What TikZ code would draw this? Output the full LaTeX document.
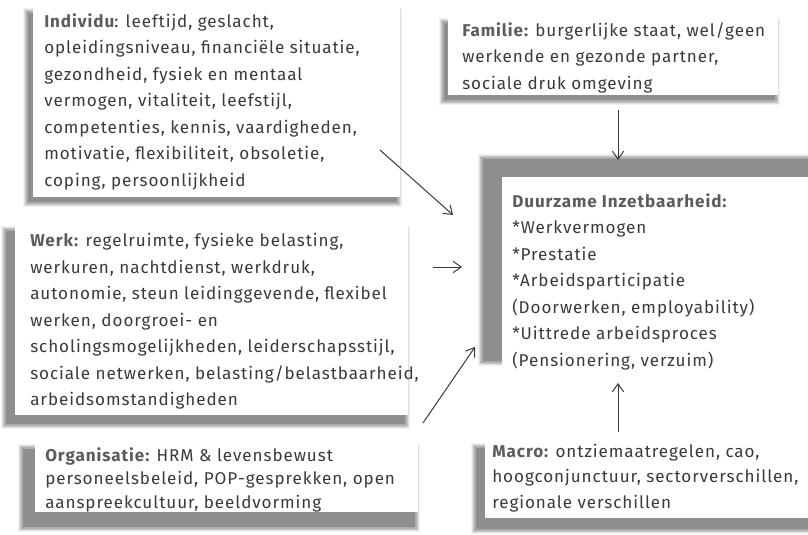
\documentclass[tikz,border=0pt]{standalone}
\usepackage{fontspec}
\setmainfont{Fira Sans}[LetterSpace=5.5]
\usetikzlibrary{arrows.meta}
\definecolor{txt}{HTML}{3A3A3A}
\definecolor{lbl}{HTML}{5C5C5C}
\definecolor{shd}{HTML}{8E8E8E}
\newcommand{\lb}[1]{{\bfseries\color{lbl}#1}}
\newcommand{\fl}{\rule{0pt}{9pt}}
\newcommand{\softshadow}[4]{%
  \foreach \d/\o in {4/0.12,3/0.18,2/0.28,1/0.45}{%
    \fill[shd,opacity=\o] (#1-\d,#2-\d) rectangle (#3+\d,#4+\d);}%
  \fill[shd] (#1+1,#2+1) rectangle (#3-1,#4-1);}
\tikzset{
  txtnode/.style={anchor=north west, inner sep=0pt, align=left, text=txt,
    font=\fontsize{12.8}{19.9}\selectfont},
  conn/.style={draw=txt, line width=0.75pt, -{Straight Barb[length=6pt,width=8.5pt]}},
}
\begin{document}
\begin{tikzpicture}[x=0.75pt,y=-0.75pt]
\useasboundingbox (0,0) rectangle (808,535);
% shadows
\softshadow{27}{12}{398}{203}
\softshadow{443}{22}{776}{101}
\softshadow{482}{158}{815}{362}
\softshadow{5}{230}{406}{425}
\softshadow{22}{448}{416}{528}
\softshadow{475}{447}{815}{530}
% white boxes
\fill[white] (33,-5) rectangle (400,197);
\fill[white] (448,5) rectangle (778,95);
\fill[white] (502,177) rectangle (815,378);
\fill[white] (15,222) rectangle (408,415);
\fill[white] (35,430) rectangle (418,512);
\fill[white] (485,435) rectangle (815,518);
% texts (top = first baseline - 12px)
\node[txtnode] (ind) at (44,13) {\fl\lb{Individu}: leeftijd, geslacht,\\
opleidingsniveau, financiële situatie,\\
gezondheid, fysiek en mentaal\\
vermogen, vitaliteit, leefstijl,\\
competenties, kennis, vaardigheden,\\
motivatie, flexibiliteit, obsoletie,\\
coping, persoonlijkheid};
\node[txtnode] (fam) at (462,22) {\fl\lb{Familie:} burgerlijke staat, wel/geen\\
werkende en gezonde partner,\\
sociale druk omgeving};
\node[txtnode] (di) at (512,193) {\fl\lb{Duurzame Inzetbaarheid:}\\
*Werkvermogen\\
*Prestatie\\
*Arbeidsparticipatie\\
(Doorwerken, employability)\\
*Uittrede arbeidsproces\\
(Pensionering, verzuim)};
\node[txtnode] (werk) at (30,233) {\fl\lb{Werk:} regelruimte, fysieke belasting,\\
werkuren, nachtdienst, werkdruk,\\
autonomie, steun leidinggevende, flexibel\\
werken, doorgroei- en\\
scholingsmogelijkheden, leiderschapsstijl,\\
sociale netwerken, belasting/belastbaarheid,\\
arbeidsomstandigheden};
\node[txtnode, font=\fontsize{12.8}{17.8}\selectfont] (org) at (45,447) {\fl\lb{Organisatie:} HRM \& levensbewust\\
personeelsbeleid, POP-gesprekken, open\\
aanspreekcultuur, beeldvorming};
\node[txtnode, font=\fontsize{12.8}{19}\selectfont] (mac) at (492,444) {\fl\lb{Macro:} ontziemaatregelen, cao,\\
hoogconjunctuur, sectorverschillen,\\
regionale verschillen};
% connector ends
\coordinate (a1s) at (380,150); \coordinate (a1e) at (453,215);
\coordinate (a2s) at (433,267); \coordinate (a2e) at (462,267);
\coordinate (a3s) at (423,423); \coordinate (a3e) at (475,347);
\coordinate (a4s) at (618,110); \coordinate (a4e) at (618,160);
\coordinate (a5s) at (618,432); \coordinate (a5e) at (618,383);
\draw[conn] (a1s) -- (a1e);
\draw[conn] (a2s) -- (a2e);
\draw[conn] (a3s) -- (a3e);
\draw[conn] (a4s) -- (a4e);
\draw[conn] (a5s) -- (a5e);
\end{tikzpicture}
\end{document}
